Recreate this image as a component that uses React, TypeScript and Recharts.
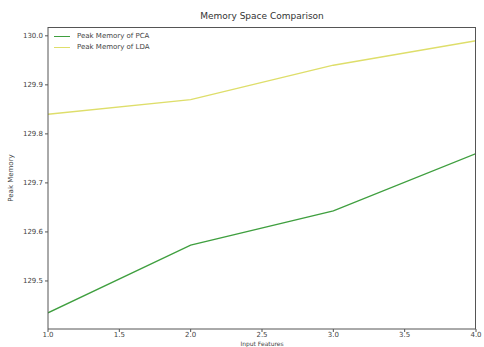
import { LineChart, Line, XAxis, YAxis, Label } from 'recharts';

const features = [1, 2, 3, 4];
const pcaMemory = [129.435, 129.573, 129.643, 129.76];
const ldaMemory = [129.84, 129.87, 129.94, 129.99];
const xTicks = [1, 1.5, 2, 2.5, 3, 3.5, 4];
const yTicks = [129.5, 129.6, 129.7, 129.8, 129.9, 130.0];

const series = [
    { key: 'pca', name: 'Peak Memory of PCA', color: '#3f9f3f' },
    { key: 'lda', name: 'Peak Memory of LDA', color: '#dede6a' },
];

const data = features.map((f, i) => ({
    feature: f,
    pca: pcaMemory[i],
    lda: ldaMemory[i],
}));

const tickStyle = { fontSize: 7, fill: '#444444', fontFamily: 'DejaVu Sans' };

export default function App() {
    return (
        <div style={{ position: 'fixed', top: 0, left: 0, width: 484, height: 347, background: '#ffffff', fontFamily: 'DejaVu Sans' }}>
            <div
                style={{
                    position: 'absolute',
                    top: 11,
                    left: 48,
                    width: 428,
                    textAlign: 'center',
                    fontSize: 9,
                    color: '#333333',
                }}
            >
                Memory Space Comparison
            </div>
            <LineChart width={484} height={347} data={data} margin={{ top: 27, right: 8, bottom: 0, left: 0 }}>
                <XAxis
                    dataKey="feature"
                    type="number"
                    domain={[1, 4]}
                    ticks={xTicks}
                    tickFormatter={(v: number) => v.toFixed(1)}
                    tick={tickStyle}
                    tickSize={3}
                    tickMargin={0}
                    height={18}
                    stroke="#555555"
                    allowDataOverflow
                >
                    <Label value="Input Features" position="insideBottom" offset={1} fill="#444444" fontSize={6} />
                </XAxis>
                <YAxis
                    type="number"
                    domain={[129.402, 130.018]}
                    ticks={yTicks}
                    tickFormatter={(v: number) => v.toFixed(1)}
                    tick={tickStyle}
                    tickSize={3}
                    width={48}
                    stroke="#555555"
                    allowDataOverflow
                >
                    <Label value="Peak Memory" angle={-90} position="insideLeft" offset={11} fill="#444444" fontSize={7} style={{ textAnchor: 'middle' }} />
                </YAxis>
                {series.map((s) => (
                    <Line
                        key={s.key}
                        type="linear"
                        dataKey={s.key}
                        name={s.name}
                        stroke={s.color}
                        strokeWidth={1.3}
                        dot={false}
                        isAnimationActive={false}
                    />
                ))}
            </LineChart>
            {/* plot frame (matplotlib style box) */}
            <div
                style={{
                    position: 'absolute',
                    left: 48,
                    top: 27,
                    width: 428,
                    height: 302,
                    borderTop: '1px solid #555555',
                    borderRight: '1px solid #555555',
                    boxSizing: 'border-box',
                    pointerEvents: 'none',
                }}
            />
            <div style={{ position: 'absolute', left: 54, top: 31, fontSize: 7, color: '#444444', lineHeight: '11px' }}>
                {series.map((s) => (
                    <div key={s.key} style={{ display: 'flex', alignItems: 'center' }}>
                        <span style={{ display: 'inline-block', width: 16, height: 0, borderTop: `1.3px solid ${s.color}`, marginRight: 7 }} />
                        {s.name}
                    </div>
                ))}
            </div>
        </div>
    );
}
